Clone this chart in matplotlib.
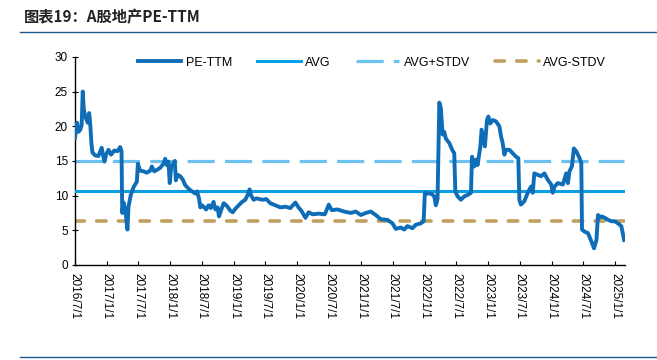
import numpy as np
import pandas as pd
import matplotlib
matplotlib.use("Agg")
import matplotlib.pyplot as plt
from matplotlib.lines import Line2D

plt.rcParams['font.family'] = ['Liberation Sans', 'Noto Sans CJK SC', 'DejaVu Sans']

# PE-TTM series
pe_dates = [
    '2016-07-01', '2016-07-08', '2016-07-14', '2016-07-22', '2016-08-01', '2016-08-09',
    '2016-08-15', '2016-08-21', '2016-08-29', '2016-09-05', '2016-09-13', '2016-09-21',
    '2016-09-28', '2016-10-04', '2016-10-10', '2016-10-25', '2016-11-13', '2016-12-02',
    '2016-12-10', '2016-12-18', '2016-12-27', '2017-01-10', '2017-01-25', '2017-02-12',
    '2017-03-03', '2017-03-18', '2017-03-26', '2017-03-30', '2017-04-07', '2017-04-17',
    '2017-04-29', '2017-05-05', '2017-05-18', '2017-06-03', '2017-06-12', '2017-06-22',
    '2017-06-28', '2017-07-11', '2017-07-30', '2017-08-18', '2017-09-07', '2017-09-16',
    '2017-09-30', '2017-10-15', '2017-11-03', '2017-11-22', '2017-12-02', '2017-12-11',
    '2017-12-21', '2017-12-28', '2018-01-05', '2018-01-15', '2018-01-26', '2018-02-01',
    '2018-02-11', '2018-02-26', '2018-03-13', '2018-03-27', '2018-04-15', '2018-05-05',
    '2018-05-24', '2018-06-03', '2018-06-14', '2018-06-22', '2018-07-02', '2018-07-14',
    '2018-07-25', '2018-08-08', '2018-08-21', '2018-09-06', '2018-09-16', '2018-09-29',
    '2018-10-07', '2018-10-19', '2018-11-03', '2018-11-22', '2018-12-12', '2018-12-25',
    '2019-01-09', '2019-01-28', '2019-02-17', '2019-03-07', '2019-03-21', '2019-04-01',
    '2019-04-10', '2019-04-24', '2019-05-10', '2019-06-14', '2019-07-06', '2019-07-29',
    '2019-08-27', '2019-09-25', '2019-10-24', '2019-11-21', '2019-12-20', '2020-01-07',
    '2020-01-24', '2020-02-16', '2020-03-05', '2020-03-28', '2020-05-02', '2020-06-06',
    '2020-06-29', '2020-07-16', '2020-08-18', '2020-09-25', '2020-11-02', '2020-12-01',
    '2020-12-30', '2021-01-28', '2021-02-25', '2021-03-26', '2021-04-23', '2021-06-01',
    '2021-06-30', '2021-07-19', '2021-08-17', '2021-09-05', '2021-09-24', '2021-10-23',
    '2021-11-11', '2021-12-10', '2021-12-26', '2022-01-02', '2022-01-17', '2022-02-06',
    '2022-02-25', '2022-03-06', '2022-03-16', '2022-03-26', '2022-04-04', '2022-04-14',
    '2022-04-23', '2022-05-03', '2022-05-22', '2022-06-10', '2022-06-20', '2022-06-26',
    '2022-07-09', '2022-07-28', '2022-08-17', '2022-09-05', '2022-09-24', '2022-09-30',
    '2022-10-13', '2022-10-23', '2022-11-01', '2022-11-17', '2022-11-24', '2022-12-06',
    '2022-12-13', '2022-12-25', '2023-01-02', '2023-01-13', '2023-01-27', '2023-02-15',
    '2023-03-06', '2023-03-16', '2023-03-25', '2023-04-04', '2023-04-13', '2023-05-03',
    '2023-05-22', '2023-06-10', '2023-06-23', '2023-06-29', '2023-07-08', '2023-07-28',
    '2023-08-16', '2023-09-04', '2023-09-14', '2023-09-23', '2023-10-13', '2023-11-01',
    '2023-11-20', '2023-12-09', '2023-12-29', '2024-01-07', '2024-01-17', '2024-02-05',
    '2024-03-05', '2024-03-24', '2024-04-03', '2024-04-12', '2024-04-26', '2024-05-07',
    '2024-05-21', '2024-06-09', '2024-06-19', '2024-06-23', '2024-07-08', '2024-07-27',
    '2024-08-16', '2024-08-31', '2024-09-14', '2024-09-23', '2024-10-03', '2024-10-12',
    '2024-11-01', '2024-11-20', '2024-12-09', '2024-12-28', '2025-01-16', '2025-02-04',
    '2025-02-20',
]
pe_values = [
    18.3, 19.5, 20.5, 19.2, 19.5, 20.2,
    25.0, 22.5, 21.5, 21.0, 20.5, 21.9,
    20.0, 17.5, 16.2, 15.8, 15.7, 16.9,
    15.8, 14.9, 15.9, 16.6, 15.9, 16.5,
    16.4, 17.0, 16.4, 7.5, 9.0, 7.8,
    5.1, 8.4, 10.1, 11.2, 11.6, 12.0,
    14.6, 13.6, 13.5, 13.3, 13.6, 14.2,
    13.5, 13.7, 14.0, 14.6, 15.3, 14.4,
    14.9, 11.8, 14.0, 14.5, 15.0, 12.2,
    13.0, 12.8, 12.3, 11.5, 11.0, 10.6,
    10.3, 10.6, 9.6, 8.3, 8.6, 8.3,
    8.0, 8.6, 8.2, 9.1, 8.0, 8.3,
    7.0, 7.9, 8.9, 8.5, 7.8, 7.6,
    8.1, 8.6, 9.1, 9.4, 10.1, 10.9,
    10.0, 9.4, 9.6, 9.4, 9.5, 8.9,
    8.6, 8.3, 8.4, 8.2, 9.0, 8.3,
    7.8, 6.8, 7.6, 7.3, 7.4, 7.3,
    8.7, 7.9, 8.0, 7.7, 7.5, 7.7,
    7.2, 7.5, 7.7, 7.2, 6.6, 6.5,
    6.0, 5.2, 5.4, 5.1, 5.6, 5.3,
    5.8, 6.0, 6.3, 10.4, 10.3, 10.3,
    9.9, 8.6, 9.5, 23.4, 22.6, 18.8,
    19.2, 18.2, 17.6, 16.5, 16.1, 10.6,
    9.9, 9.4, 9.9, 10.1, 10.4, 15.6,
    14.2, 15.2, 14.4, 17.1, 19.5, 18.0,
    17.1, 20.9, 21.4, 20.4, 20.9, 20.7,
    20.0, 18.5, 17.6, 15.9, 16.6, 16.6,
    16.1, 15.6, 15.4, 9.4, 8.7, 9.2,
    10.4, 11.3, 10.4, 13.2, 13.0, 12.8,
    13.2, 12.3, 11.6, 10.4, 11.3, 11.8,
    11.6, 13.2, 11.8, 13.5, 14.2, 16.8,
    16.4, 15.4, 14.7, 5.1, 4.8, 4.6,
    3.4, 2.4, 3.6, 7.2, 6.8, 7.0,
    6.8, 6.5, 6.3, 6.3, 6.0, 5.6,
    3.6,
]
avg_value = 10.7
stdv_value = 4.35

tick_dates = pd.date_range('2016-07-01', '2025-01-01', freq='6MS')

dates = pd.to_datetime(pe_dates)
pe = np.array(pe_values)
n = len(dates)

c_pe = '#0F6DB8'
c_avg = '#0AA0E6'
c_up = '#6CC2EE'
c_dn = '#BFA05E'

fig = plt.figure(figsize=(6.57, 3.60), dpi=100)
ax = fig.add_axes([0.114, 0.264, 0.837, 0.578])

ax.plot(dates, pe, color=c_pe, lw=2.8, solid_joinstyle='round', label='PE-TTM', zorder=4)
ax.plot(dates, np.full(n, avg_value), color=c_avg, lw=2.2, label='AVG', zorder=3)
ax.plot(dates, np.full(n, avg_value + stdv_value), color=c_up, lw=2.3,
        dashes=(8.5, 3.2), label='AVG+STDV', zorder=2)
ax.plot(dates, np.full(n, avg_value - stdv_value), color=c_dn, lw=2.6,
        dashes=(2.6, 3.4), dash_capstyle='round', label='AVG-STDV', zorder=2)

ax.set_ylim(0, 30)
ax.set_yticks(np.arange(0, 31, 5))
ax.set_xlim(pd.Timestamp('2016-07-01'), pd.Timestamp('2025-02-24'))
ax.set_xticks(tick_dates)
ax.set_xticklabels([f'{d.year}/{d.month}/{d.day}' for d in tick_dates],
                   rotation=-90, va='top', ha='center')

for s in ['top', 'right']:
    ax.spines[s].set_visible(False)
for s in ['left', 'bottom']:
    ax.spines[s].set_linewidth(1.0)
ax.tick_params(axis='y', direction='inout', length=4, width=0.8,
               labelsize=8.5, colors='black', pad=3)
ax.tick_params(axis='x', direction='in', length=3, width=0.8,
               labelsize=8.5, colors='black', pad=6)

leg = ax.legend(loc='center', bbox_to_anchor=(0.54, 0.972), ncol=4, frameon=False,
                fontsize=9, handlelength=3.5, columnspacing=2.0, handletextpad=0.35)

fig.text(0.036, 0.953, '图表19：A股地产PE-TTM', fontsize=11, fontweight='bold',
         family=['Noto Sans CJK SC', 'DejaVu Sans'], color='#222222', va='center')
fig.add_artist(Line2D([0.03, 1.0], [0.911, 0.911], color='#1F5A8C', lw=1.0))
fig.add_artist(Line2D([0.03, 1.0], [0.008, 0.008], color='#1F5A8C', lw=1.0))

fig.savefig('out.png', dpi=100)
